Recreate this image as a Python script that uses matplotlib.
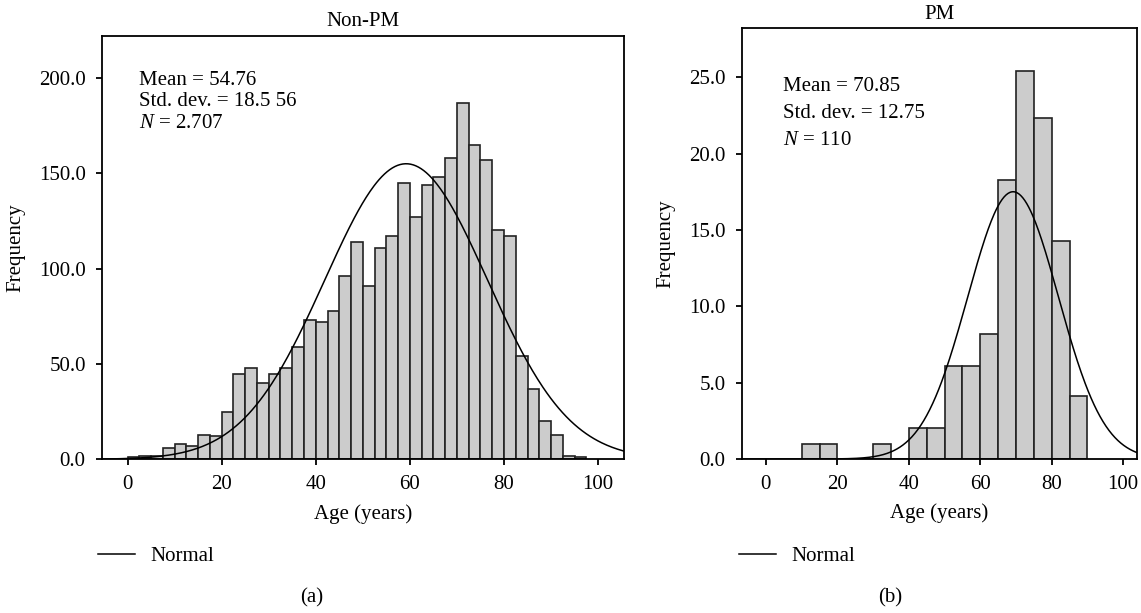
import numpy as np
import matplotlib
import matplotlib.pyplot as plt
from matplotlib.lines import Line2D

matplotlib.use('Agg')

# --- DONNEES ---
# Non-PM : effectifs par classe de 2.5 ans, a partir de 0
nonpm_start = 0.0
nonpm_width = 2.5
nonpm_counts = [1, 2, 2, 6, 8, 7, 13, 12, 25, 45, 48, 40, 45, 48, 59, 73,
                72, 78, 96, 114, 91, 111, 117, 145, 127, 144, 148, 158, 187,
                165, 157, 120, 117, 54, 37, 20, 13, 2, 1]
nonpm_stats = ["Mean = 54.76", "Std. dev. = 18.5 56", r"$N$ = 2.707"]
# courbe normale (centre, ecart-type, hauteur du pic)
nonpm_curve = (59.2, 17.3, 155.0)

# PM : effectifs par classe de 5 ans, a partir de 10
pm_start = 10.0
pm_width = 5.0
pm_counts = [1.0, 1.0, 0, 0, 1.0, 0, 2.05, 2.05, 6.1, 6.1, 8.2, 18.3, 25.4,
             22.35, 14.25, 4.1]
pm_stats = ["Mean = 70.85", "Std. dev. = 12.75", r"$N$ = 110"]
pm_curve = (69.2, 12.7, 17.5)

x_ticks = [0, 20, 40, 60, 80, 100]
nonpm_yticks = [0, 50, 100, 150, 200]
pm_yticks = [0, 5, 10, 15, 20, 25]

# --- STYLE ---
plt.rcParams['font.family'] = ['Liberation Serif', 'DejaVu Serif']
plt.rcParams['mathtext.fontset'] = 'custom'
plt.rcParams['mathtext.rm'] = 'Liberation Serif'
plt.rcParams['mathtext.it'] = 'Liberation Serif:italic'
plt.rcParams['axes.linewidth'] = 1.3
FS = 15

fig = plt.figure(figsize=(11.41, 6.13), dpi=100)
ax1 = fig.add_axes([0.0891, 0.2507, 0.4578, 0.6906])
ax2 = fig.add_axes([0.6500, 0.2512, 0.3462, 0.7026])


def draw_hist(ax, start, width, counts, curve, xlim, ylim, yticks, title, stats, stat_pos):
    edges = start + width * np.arange(len(counts))
    ax.bar(edges, counts, width=width, align='edge', color='#cccccc',
           edgecolor='#222222', linewidth=1.2, zorder=2)
    mu, sd, peak = curve
    xs = np.linspace(xlim[0], xlim[1], 400)
    line, = ax.plot(xs, peak * np.exp(-(xs - mu) ** 2 / (2 * sd ** 2)),
                    color='black', linewidth=1.1, zorder=3)
    ax.set_xlim(*xlim)
    ax.set_ylim(*ylim)
    ax.set_xticks(x_ticks)
    ax.set_yticks(yticks)
    ax.set_yticklabels([f"{v:.1f}" for v in yticks])
    ax.tick_params(labelsize=FS, length=4.5, width=1.3, direction='out', pad=7)
    ax.set_xlabel('Age (years)', fontsize=FS, labelpad=7)
    ax.set_ylabel('Frequency', fontsize=FS, labelpad=10)
    ax.set_title(title, fontsize=FS, pad=7)
    x0, y0, dy = stat_pos
    for i, s in enumerate(stats):
        ax.text(x0, y0 - i * dy, s, transform=ax.transAxes, fontsize=FS,
                va='baseline', ha='left')
    return line


line1 = draw_hist(ax1, nonpm_start, nonpm_width, nonpm_counts, nonpm_curve,
                  (-5.5, 105.5), (0, 222), nonpm_yticks, 'Non-PM',
                  nonpm_stats, (0.0714, 0.884, 0.0505))
line2 = draw_hist(ax2, pm_start, pm_width, pm_counts, pm_curve,
                  (-6.8, 103.8), (0, 28.2), pm_yticks, 'PM',
                  pm_stats, (0.1046, 0.854, 0.062))

# Legendes "Normal" sous chaque graphique
for lx, ly in [(0.086, 0.092), (0.648, 0.092)]:
    fig.legend(handles=[Line2D([], [], color='black', linewidth=1.1)],
               labels=['Normal'], loc='center left', bbox_to_anchor=(lx, ly),
               frameon=False, fontsize=FS, handlelength=1.75,
               handletextpad=0.75, borderpad=0, borderaxespad=0)

fig.text(312 / 1141, 1 - 598 / 613, '(a)', fontsize=FS, ha='center', va='center')
fig.text(890 / 1141, 1 - 598 / 613, '(b)', fontsize=FS, ha='center', va='center')

fig.savefig('out.png', dpi=100)
